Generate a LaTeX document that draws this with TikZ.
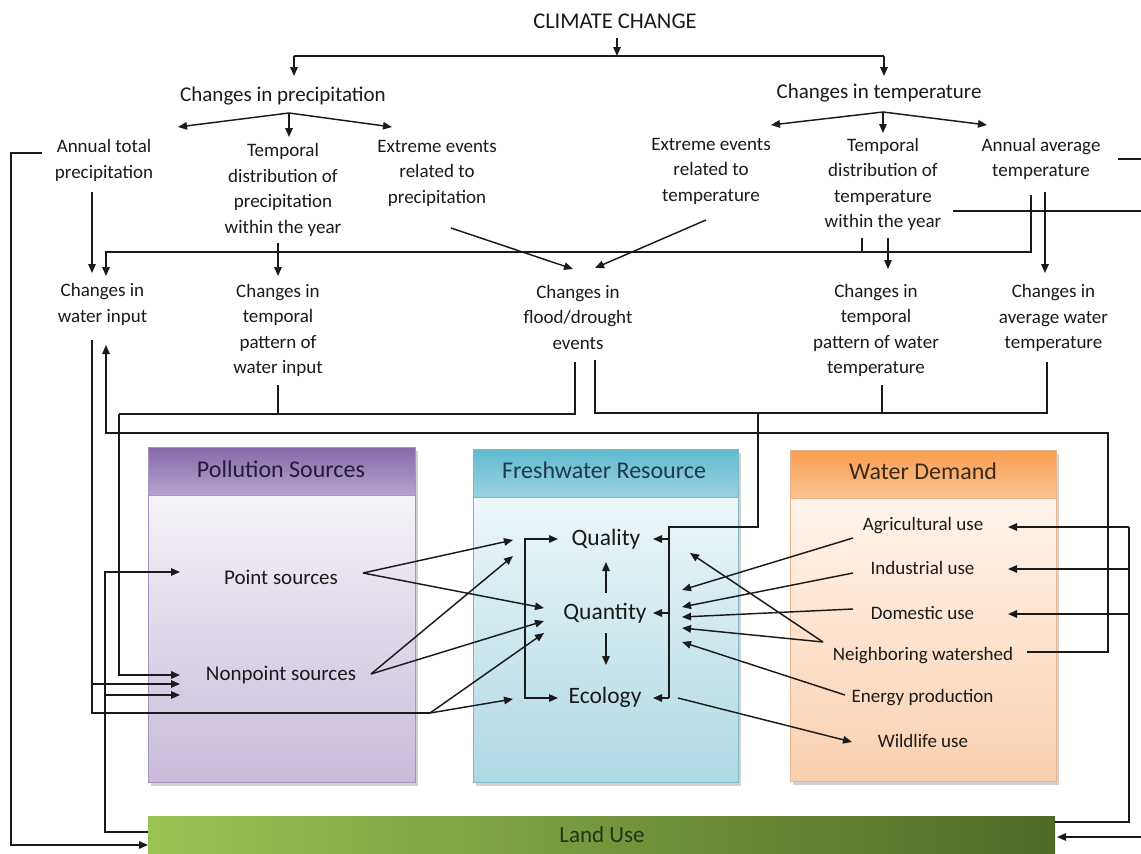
\documentclass[tikz,border=0pt]{standalone}
\usepackage{fontspec}
\setmainfont{Carlito}
\usetikzlibrary{arrows.meta}

\definecolor{ink}{HTML}{1A1A1A}
% pollution sources
\definecolor{polHeadTop}{HTML}{8569AA}
\definecolor{polHeadMid}{HTML}{7A5E9E}
\definecolor{polHeadBot}{HTML}{B5A3D0}
\definecolor{polBodyTop}{HTML}{FDFCFE}
\definecolor{polBodyBot}{HTML}{C8BBD9}
\definecolor{polEdge}{HTML}{A593BF}
\definecolor{polText}{HTML}{221B3B}
% freshwater resource
\definecolor{fwHeadTop}{HTML}{62B9D1}
\definecolor{fwHeadMid}{HTML}{40A1BE}
\definecolor{fwHeadBot}{HTML}{9AD2E2}
\definecolor{fwBodyTop}{HTML}{F8FCFD}
\definecolor{fwBodyBot}{HTML}{AED8E3}
\definecolor{fwEdge}{HTML}{80B9CA}
\definecolor{fwText}{HTML}{1B3A52}
% water demand
\definecolor{wdHeadTop}{HTML}{F89E52}
\definecolor{wdHeadMid}{HTML}{F58B36}
\definecolor{wdHeadBot}{HTML}{FBC393}
\definecolor{wdBodyTop}{HTML}{FFFAF6}
\definecolor{wdBodyBot}{HTML}{FBD0AE}
\definecolor{wdEdge}{HTML}{E9B48A}
\definecolor{wdText}{HTML}{3E2A17}
% land use
\definecolor{luLeft}{HTML}{9CC255}
\definecolor{luRight}{HTML}{4E6B26}
\definecolor{luText}{HTML}{263316}

\begin{document}
\begin{tikzpicture}[x=1pt,y=-1pt,
  txt/.style={align=center,inner sep=0pt,text=ink,font=\fontsize{19}{25.5}\selectfont},
  midtxt/.style={txt,font=\fontsize{21}{25.5}\selectfont},
  srctxt/.style={txt,font=\fontsize{21}{25}\selectfont},
  fwtxt/.style={txt,font=\fontsize{23.5}{28}\selectfont},
  headtxt/.style={txt,font=\fontsize{24}{28}\selectfont},
  ln/.style={line width=1.45pt,draw=ink},
  arr/.style={ln,-{Triangle[length=9pt,width=7.5pt]}},
  dbl/.style={ln,{Triangle[length=9pt,width=7.5pt]}-{Triangle[length=9pt,width=7.5pt]}},
  shadow/.style={fill=black,fill opacity=0.18},
]
\useasboundingbox (0,0) rectangle (1141,854);
\clip (0,0) rectangle (1141,854);
\fill[white] (0,0) rectangle (1141,854);

% ---------- the three panels and the land-use bar ----------
\fill[shadow] (151,451) rectangle (418,786);
\node[draw=polEdge,line width=0.8pt,top color=polBodyTop,bottom color=polBodyBot,
      minimum width=267pt,minimum height=335pt,inner sep=0pt] (pol) at (281.5,614.5) {};
\node[top color=polHeadTop,middle color=polHeadMid,bottom color=polHeadBot,draw=polEdge,line width=0.8pt,
      minimum width=267pt,minimum height=48pt,inner sep=0pt] (polh) at (281.5,471) {};
\node[headtxt,text=polText] (polt) at (281,469) {Pollution Sources};

\fill[shadow] (476,453) rectangle (741,786);
\node[draw=fwEdge,line width=0.8pt,top color=fwBodyTop,bottom color=fwBodyBot,
      minimum width=265pt,minimum height=333pt,inner sep=0pt] (fw) at (605.5,615.5) {};
\node[top color=fwHeadTop,middle color=fwHeadMid,bottom color=fwHeadBot,draw=fwEdge,line width=0.8pt,
      minimum width=265pt,minimum height=48pt,inner sep=0pt] (fwh) at (605.5,473) {};
\node[headtxt,text=fwText] (fwt) at (604,470) {Freshwater Resource};

\fill[shadow] (793,454) rectangle (1059,785);
\node[draw=wdEdge,line width=0.8pt,top color=wdBodyTop,bottom color=wdBodyBot,
      minimum width=266pt,minimum height=331pt,inner sep=0pt] (wd) at (923,615.5) {};
\node[top color=wdHeadTop,middle color=wdHeadMid,bottom color=wdHeadBot,draw=wdEdge,line width=0.8pt,
      minimum width=266pt,minimum height=48pt,inner sep=0pt] (wdh) at (923,474) {};
\node[headtxt,text=wdText] (wdt) at (923,471) {Water Demand};

\node[left color=luLeft,right color=luRight,minimum width=907pt,minimum height=50pt,inner sep=0pt] (lubar) at (601.5,841) {};
\node[txt,font=\fontsize{23}{27}\selectfont,text=luText] (lu) at (602,835) {Land Use};

% ---------- climate drivers ----------
\node[txt,font=\fontsize{22.5}{27}\selectfont] (cc) at (615,21) {CLIMATE CHANGE};
\node[midtxt] (cp) at (283,96) {Changes in precipitation};
\node[midtxt] (ct) at (879,93) {Changes in temperature};
\node[txt] (apt) at (104,160.5) {Annual total\\precipitation};
\node[txt] (tdp) at (283,190) {Temporal\\distribution of\\precipitation\\within the year};
\node[txt] (eep) at (437,173) {Extreme events\\related to\\precipitation};
\node[txt] (eet) at (711,171) {Extreme events\\related to\\temperature};
\node[txt] (tdt) at (883,184.5) {Temporal\\distribution of\\temperature\\within the year};
\node[txt] (aat) at (1041,159) {Annual average\\temperature};

% ---------- hydrological changes ----------
\node[txt] (cwi) at (102.5,304.5) {Changes in\\water input};
\node[txt] (ctw) at (278,330.5) {Changes in\\temporal\\pattern of\\water input};
\node[txt] (cfd) at (578,317) {Changes in\\flood/drought\\events};
\node[txt] (ctt) at (876,330.5) {Changes in\\temporal\\pattern of water\\temperature};
\node[txt] (cat) at (1053.5,318) {Changes in\\average water\\temperature};

% ---------- panel contents ----------
\node[srctxt] (ps) at (281,577) {Point sources};
\node[srctxt] (nps) at (281,675) {Nonpoint sources};
\node[fwtxt] (qual) at (606,539) {Quality};
\node[fwtxt] (quan) at (605,613) {Quantity};
\node[fwtxt] (eco) at (605,697) {Ecology};
\node[txt] (agr) at (923,526) {Agricultural use};
\node[txt] (ind) at (922.5,568) {Industrial use};
\node[txt] (dom) at (922.5,613) {Domestic use};
\node[txt] (nbw) at (923,656) {Neighboring watershed};
\node[txt] (enp) at (922.5,698) {Energy production};
\node[txt] (wlu) at (923,741) {Wildlife use};

% ---------- connector ports ----------
\coordinate (cc-s) at (617,38);
\coordinate (top-j) at (617,56);
\coordinate (cp-n) at (294,76);
\coordinate (ct-n) at (884,76);
\coordinate (cp-s) at (289,113);
\coordinate (apt-n) at (178,127);
\coordinate (tdp-n) at (289,137);
\coordinate (eep-n) at (392,127);
\coordinate (ct-s) at (883,112);
\coordinate (eet-n) at (771,125);
\coordinate (tdt-n) at (883,133);
\coordinate (aat-n) at (987,125);

\coordinate (apt-w) at (42,153);
\coordinate (lu-w1) at (148,845);
\coordinate (apt-s) at (92,192);
\coordinate (cwi-n1) at (92,273);
\coordinate (cwi-n2) at (106,276);
\coordinate (tdp-s) at (278,243);
\coordinate (ctw-n) at (278,276);
\coordinate (eep-s) at (451,228);
\coordinate (cfd-n1) at (573,269);
\coordinate (eet-s) at (706,220);
\coordinate (cfd-n2) at (595,268);
\coordinate (aat-s1) at (1031,195);
\coordinate (aat-s2) at (1045,192);
\coordinate (cat-n) at (1045,273);
\coordinate (tdt-s1) at (862,238);
\coordinate (tdt-s2) at (888,238);
\coordinate (ctt-n) at (888,269);
\coordinate (aat-e) at (1118,159);
\coordinate (aat-out) at (1141,159);
\coordinate (tdt-e) at (953,211);
\coordinate (tdt-out) at (1141,211);
\coordinate (lu-in) at (1141,837);
\coordinate (lu-e1) at (1057,837);

\coordinate (cwi-s) at (92,340);
\coordinate (cwi-s2) at (106,345);
\coordinate (ctw-s) at (278,385);
\coordinate (cfd-s1) at (575,362);
\coordinate (cfd-s2) at (595,360);
\coordinate (ctt-s) at (882,385);
\coordinate (cat-s) at (1047,362);
\coordinate (nps-w1) at (180,675);
\coordinate (nps-w2) at (180,684);
\coordinate (nps-w3) at (180,695);
\coordinate (ps-w) at (180,572);
\coordinate (lu-w2) at (148,832);
\coordinate (lu-e2) at (1055,822);
\coordinate (fw-fork) at (430,713);

\coordinate (ps-e) at (363,573);
\coordinate (nps-e) at (371,674);
\coordinate (qual-w) at (513,540);
\coordinate (qual-w2) at (513,556);
\coordinate (eco-w) at (513,699);
\coordinate (quan-w1) at (544,608);
\coordinate (quan-w2) at (544,621);
\coordinate (quan-w3) at (544,633);
\coordinate (brk-q) at (558,539);
\coordinate (brk-e) at (558,698);
\coordinate (qual-s) at (606,562);
\coordinate (quan-n) at (606,593);
\coordinate (quan-s) at (606,633);
\coordinate (eco-n) at (606,665);
\coordinate (qual-e) at (653,539);
\coordinate (quan-e) at (653,613);
\coordinate (eco-e) at (653,698);
\coordinate (eco-out) at (678,698);
\coordinate (wlu-w) at (852,742);
\coordinate (qual-se) at (690,553);
\coordinate (quan-e1) at (682,590);
\coordinate (quan-e2) at (682,607);
\coordinate (quan-e3) at (682,617);
\coordinate (quan-e4) at (682,628);
\coordinate (quan-e5) at (682,642);
\coordinate (agr-w) at (853,538);
\coordinate (ind-w) at (853,573);
\coordinate (dom-w) at (853,609);
\coordinate (nbw-w) at (823,642);
\coordinate (enp-w) at (845,695);
\coordinate (agr-e) at (1008,527);
\coordinate (ind-e) at (1008,569);
\coordinate (dom-e) at (1008,614);
\coordinate (nbw-e) at (1027,652);

% ---------- climate change branches ----------
\draw[arr] (cc-s) -- (top-j);
\draw[ln] (cp-n |- top-j) -- (ct-n |- top-j);
\draw[arr] (cp-n |- top-j) -- (cp-n);
\draw[arr] (ct-n |- top-j) -- (ct-n);
\draw[arr] (cp-s) -- (apt-n);
\draw[arr] (cp-s) -- (tdp-n);
\draw[arr] (cp-s) -- (eep-n);
\draw[arr] (ct-s) -- (eet-n);
\draw[arr] (ct-s) -- (tdt-n);
\draw[arr] (ct-s) -- (aat-n);

% ---------- precipitation and temperature effects ----------
\draw[arr] (apt-w) -| (11,845) -- (lu-w1);
\draw[arr] (apt-s) -- (cwi-n1);
\draw[arr] (tdp-s) -- (ctw-n);
\draw[arr] (eep-s) -- (cfd-n1);
\draw[arr] (eet-s) -- (cfd-n2);
\draw[arr] (aat-s1) -- (aat-s1 |- 0,252) -| (cwi-n2);
\draw[ln] (tdt-s1) -- (tdt-s1 |- 0,252);
\draw[arr] (aat-s2) -- (cat-n);
\draw[arr] (tdt-s2) -- (ctt-n);
\draw[ln] (aat-e) -- (aat-out);
\draw[ln] (tdt-e) -- (tdt-out);
\draw[arr] (lu-in) -- (lu-e1);

% ---------- hydrological changes into the panels ----------
\draw[ln] (cwi-s) |- (fw-fork);
\draw[arr] (fw-fork) -- (quan-w3);
\draw[arr] (fw-fork) -- (eco-w);
\draw[arr] (cwi-s |- nps-w2) -- (nps-w2);
\draw[ln] (ctw-s) -- (ctw-s |- 0,414);
\draw[ln] (cfd-s1) -- (cfd-s1 |- 0,414) -- (119,414);
\draw[arr] (119,414) |- (nps-w1);
\draw[ln] (cfd-s2) |- (1047,413) -- (cat-s);
\draw[ln] (ctt-s) -- (ctt-s |- 0,413);
\draw[ln] (758,413) -- (758,527) -| (669,698);
\draw[arr] (669,698) -- (eco-e);
\draw[arr] (669,539) -- (qual-e);
\draw[arr] (669,613) -- (quan-e);
\draw[arr] (nbw-e) -| (1108,433) -| (cwi-s2);

% ---------- land use links ----------
\draw[ln] (lu-e2) -| (1129,527);
\draw[arr] (1129,527) -- (agr-e);
\draw[arr] (1129,569) -- (ind-e);
\draw[arr] (1129,614) -- (dom-e);
\draw[arr] (lu-w2) -| (105,572) -- (ps-w);
\draw[arr] (105,695) -- (nps-w3);

% ---------- links into the freshwater resource ----------
\draw[arr] (ps-e) -- (qual-w);
\draw[arr] (ps-e) -- (quan-w1);
\draw[arr] (nps-e) -- (qual-w2);
\draw[arr] (nps-e) -- (quan-w2);
\draw[dbl] (brk-q) -- (525,539) -- (525,698) -- (brk-e);
\draw[arr] (quan-n) -- (qual-s);
\draw[arr] (quan-s) -- (eco-n);
\draw[arr] (agr-w) -- (quan-e1);
\draw[arr] (ind-w) -- (quan-e2);
\draw[arr] (dom-w) -- (quan-e3);
\draw[arr] (nbw-w) -- (quan-e4);
\draw[arr] (nbw-w) -- (qual-se);
\draw[arr] (enp-w) -- (quan-e5);
\draw[arr] (eco-out) -- (wlu-w);
\end{tikzpicture}
\end{document}
